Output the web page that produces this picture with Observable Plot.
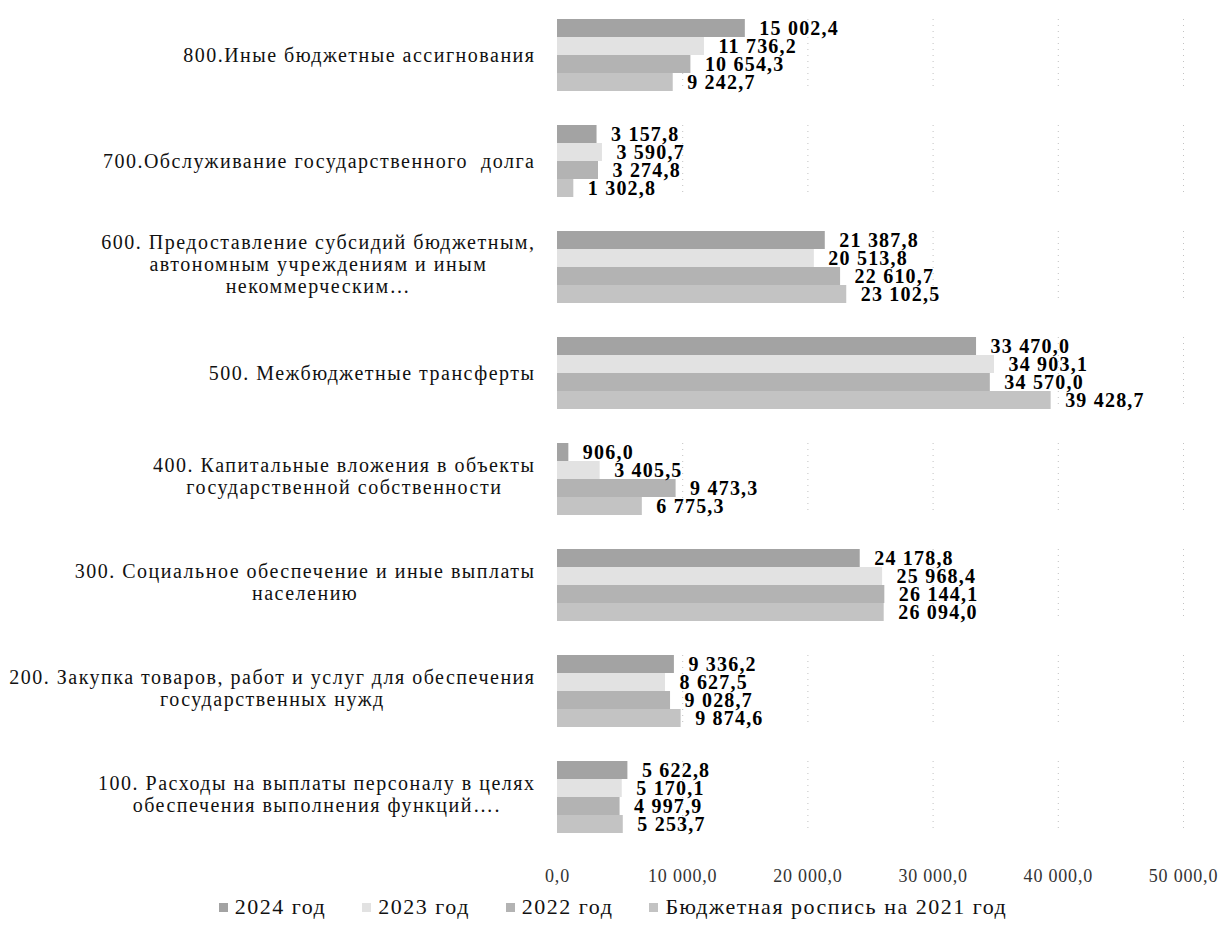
<!DOCTYPE html>
<html><head><meta charset="utf-8">
<script src="https://cdn.jsdelivr.net/npm/d3@7"></script>
<script src="https://cdn.jsdelivr.net/npm/@observablehq/plot@0.6"></script>
<style>
body{margin:0;background:#fff;font-family:"Liberation Serif",serif;}
#legend{display:flex;justify-content:center;gap:36px;font-size:22px;letter-spacing:1.5px;color:#111;margin-top:4px;padding-left:0;}
#legend .it{display:flex;align-items:center;gap:7px;}
#legend .sw{width:9px;height:9px;display:inline-block;}
</style></head><body><div id="chart"></div><div id="legend"></div>
<script>
const categories = [
  "800.Иные бюджетные ассигнования",
  "700.Обслуживание государственного  долга",
  "600. Предоставление субсидий бюджетным,\nавтономным учреждениям и иным\nнекоммерческим…",
  "500. Межбюджетные трансферты",
  "400. Капитальные вложения в объекты\nгосударственной собственности",
  "300. Социальное обеспечение и иные выплаты\nнаселению",
  "200. Закупка товаров, работ и услуг для обеспечения\nгосударственных нужд",
  "100. Расходы на выплаты персоналу в целях\nобеспечения выполнения функций…."
];
const series = ["2024 год", "2023 год", "2022 год", "Бюджетная роспись на 2021 год"];
const v2024 = [15002.4, 3157.8, 21387.8, 33470.0, 906.0, 24178.8, 9336.2, 5622.8];
const v2023 = [11736.2, 3590.7, 20513.8, 34903.1, 3405.5, 25968.4, 8627.5, 5170.1];
const v2022 = [10654.3, 3274.8, 22610.7, 34570.0, 9473.3, 26144.1, 9028.7, 4997.9];
const v2021 = [9242.7, 1302.8, 23102.5, 39428.7, 6775.3, 26094.0, 9874.6, 5253.7];
const xTicks = [0, 10000, 20000, 30000, 40000, 50000];
const colors = ["#a3a3a3", "#e2e2e2", "#b3b3b3", "#c3c3c3"];

const seriesValues = [v2024, v2023, v2022, v2021];
const data = [];
categories.forEach((c, i) => series.forEach((s, j) => data.push({category: c, series: s, value: seriesValues[j][i]})));

const loc = d3.formatLocale({decimal: ",", thousands: "\u00a0", grouping: [3], currency: ["", ""]});
const fmt = loc.format(",.1f");

const chart = Plot.plot({
  width: 1226, height: 890,
  marginLeft: 557, marginRight: 43, marginTop: 10, marginBottom: 48,
  style: {fontFamily: "'Liberation Serif', serif", fontSize: "18px", color: "#111", background: "#fff"},
  x: {domain: [0, 50000], ticks: xTicks, tickFormat: fmt, tickSize: 0, tickPadding: 36, label: null, grid: true},
  y: {domain: series, axis: null, paddingInner: 0, paddingOuter: 0},
  fy: {domain: categories, paddingInner: 0.32, paddingOuter: 0.05, label: null, tickSize: 0, tickPadding: 22},
  color: {domain: series, range: colors},
  marks: [
    Plot.barX(data, {x: "value", y: "series", fy: "category", fill: "series"}),
    Plot.text(data, {x: "value", y: "series", fy: "category", text: d => fmt(d.value), textAnchor: "start", dx: 14,
      fontWeight: "bold", fontSize: 20, fill: "#000"})
  ]
});
document.getElementById("chart").append(chart);

const sel = d3.select(chart);
sel.selectAll("[aria-label='x-grid'] line").attr("stroke", "#999").attr("stroke-dasharray", "1,5").attr("stroke-opacity", 0.6);
sel.selectAll("[aria-label='x-axis tick label']").attr("font-size", 18).attr("letter-spacing", 0.8).attr("fill", "#333");
sel.selectAll("[aria-label='text']").attr("letter-spacing", 1.2);
// center each line of multi-line category labels within its right-aligned block
sel.selectAll("[aria-label='fy-axis tick label']").attr("font-size", 20).attr("letter-spacing", 1.5).attr("fill", "#111");
sel.selectAll("[aria-label='fy-axis tick label'] text").each(function() {
  const t = d3.select(this);
  const tsp = t.selectAll("tspan");
  if (tsp.empty()) return;
  const w = this.getBBox().width;
  const n = tsp.size();
  t.attr("text-anchor", "middle");
  tsp.attr("x", -w / 2).attr("y", (d, i) => (i - (n - 1) / 2) * 22 - 3).attr("dy", "0.32em");
});

const lg = d3.select("#legend");
series.forEach((s, i) => {
  const it = lg.append("div").attr("class", "it");
  it.append("span").attr("class", "sw").style("background", colors[i]);
  it.append("span").text(s);
});
</script></body></html>
